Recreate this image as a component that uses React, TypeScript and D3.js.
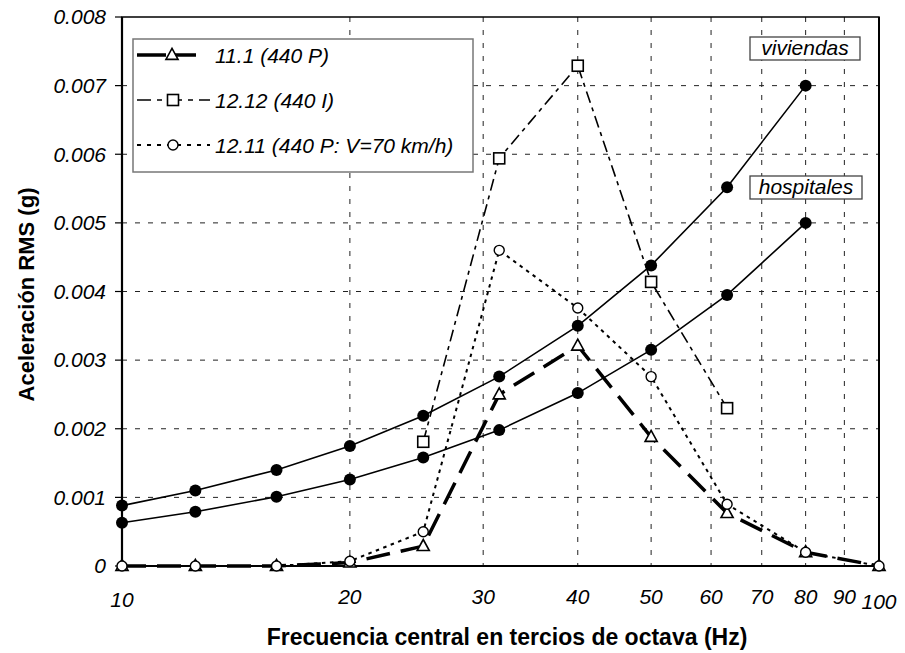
import React from "react";
import * as d3 from "d3";

const freqs = [10, 12.5, 16, 20, 25, 31.5, 40, 50, 63, 80, 100];
const critFreqs = [10, 12.5, 16, 20, 25, 31.5, 40, 50, 63, 80];
const viviendas = [0.00088, 0.0011, 0.0014, 0.00175, 0.00219, 0.00276, 0.0035, 0.00438, 0.00552, 0.007];
const hospitales = [0.00063, 0.00079, 0.00101, 0.00126, 0.00158, 0.00198, 0.00252, 0.00315, 0.00395, 0.005];
const s111 = [0, 0, 0, 0.00005, 0.00029, 0.0025, 0.00321, 0.00188, 0.00077, 0.0002, 0];
const f1212 = [25, 31.5, 40, 50, 63];
const s1212 = [0.00181, 0.00594, 0.00729, 0.00414, 0.0023];
const s1211 = [0, 0, 0, 0.00007, 0.0005, 0.0046, 0.00376, 0.00276, 0.0009, 0.0002, 0];
const xTicks = [10, 20, 30, 40, 50, 60, 70, 80, 90, 100];
const yTicks = [0, 0.001, 0.002, 0.003, 0.004, 0.005, 0.006, 0.007, 0.008];
const legendLabels = ["11.1 (440 P)", "12.12 (440 I)", "12.11 (440 P: V=70 km/h)"];

const FONT = "'Liberation Sans', Arial, Helvetica, sans-serif";
const L = 122, R = 879, T = 17, B = 566;

export default function App() {
  const x = d3.scaleLog().domain([10, 100]).range([L, R]);
  const y = d3.scaleLinear().domain([0, 0.008]).range([B, T]);
  const line = d3.line<[number, number]>().x(d => x(d[0])).y(d => y(d[1]));
  const zip = (fs: number[], vs: number[]) => fs.map((f, i) => [f, vs[i]] as [number, number]);

  const tri = (cx: number, cy: number, s = 11) =>
    `M${cx},${cy - s * 0.6}L${cx + s * 0.55},${cy + s * 0.4}L${cx - s * 0.55},${cy + s * 0.4}Z`;

  const styles = [
    { dash: "24,11", w: 3.5 },
    { dash: "12,5,4,5", w: 1.6 },
    { dash: "3.5,4.5", w: 2 },
  ];

  const markerTri = (cx: number, cy: number, k: string) => (
    <path key={k} d={tri(cx, cy)} fill="white" stroke="black" strokeWidth={1.6} />
  );
  const markerSq = (cx: number, cy: number, k: string) => (
    <rect key={k} x={cx - 5.5} y={cy - 5.5} width={11} height={11} fill="white" stroke="black" strokeWidth={1.6} />
  );
  const markerCirc = (cx: number, cy: number, k: string) => (
    <circle key={k} cx={cx} cy={cy} r={5} fill="white" stroke="black" strokeWidth={1.4} />
  );

  return (
    <svg width={905} height={653} style={{ position: "absolute", left: 0, top: 0, background: "white" }}>
      <rect x={0} y={0} width={905} height={653} fill="white" />
      {/* gridlines */}
      {yTicks.slice(1, -1).map(t => (
        <line key={"gy" + t} x1={L} x2={R} y1={y(t)} y2={y(t)} stroke="#222" strokeWidth={1} strokeDasharray="5,8" />
      ))}
      {xTicks.slice(1, -1).map(t => (
        <line key={"gx" + t} x1={x(t)} x2={x(t)} y1={T} y2={B} stroke="#222" strokeWidth={1} strokeDasharray="5,8" />
      ))}
      {/* border */}
      <rect x={L} y={T} width={R - L} height={B - T} fill="none" stroke="black" strokeWidth={1.5} />
      <line x1={L} x2={L} y1={T} y2={B} stroke="black" strokeWidth={2.2} />
      <line x1={L} x2={R} y1={B} y2={B} stroke="black" strokeWidth={2.2} />
      <line x1={R} x2={R} y1={T} y2={B} stroke="black" strokeWidth={2} />
      {/* y ticks */}
      {yTicks.map(t => (
        <g key={"yt" + t}>
          <line x1={L - 7} x2={L} y1={y(t)} y2={y(t)} stroke="black" strokeWidth={1.2} />
          <text x={106} y={y(t)} dy="0.35em" textAnchor="end" fontFamily={FONT} fontStyle="italic" fontSize={21}>
            {t === 0 ? "0" : d3.format(".3f")(t)}
          </text>
        </g>
      ))}
      {/* x tick labels */}
      {xTicks.map(t => (
        <text key={"xt" + t} x={x(t)} y={t === 100 ? 609 : t === 10 ? 607 : 604} textAnchor="middle"
          fontFamily={FONT} fontStyle="italic" fontSize={21}>{t}</text>
      ))}
      {/* axis titles */}
      <text x={507} y={645} textAnchor="middle" fontFamily={FONT} fontWeight="bold" fontSize={23}>
        Frecuencia central en tercios de octava (Hz)
      </text>
      <text transform={`translate(34,${(T + B) / 2 + 3}) rotate(-90)`} textAnchor="middle" fontFamily={FONT}
        fontWeight="bold" fontSize={22}>Aceleración RMS (g)</text>

      {/* criteria curves */}
      {[viviendas, hospitales].map((vs, si) => (
        <g key={"crit" + si}>
          <path d={line(zip(critFreqs, vs)) || ""} fill="none" stroke="black" strokeWidth={1.6} />
          {vs.map((v, i) => (
            <circle key={i} cx={x(critFreqs[i])} cy={y(v)} r={6} fill="black" />
          ))}
        </g>
      ))}

      {/* series */}
      <path d={line(zip(freqs, s111)) || ""} fill="none" stroke="black" strokeWidth={styles[0].w} strokeDasharray={styles[0].dash} />
      <path d={line(zip(f1212, s1212)) || ""} fill="none" stroke="black" strokeWidth={styles[1].w} strokeDasharray={styles[1].dash} />
      <path d={line(zip(freqs, s1211)) || ""} fill="none" stroke="black" strokeWidth={styles[2].w} strokeDasharray={styles[2].dash} />
      {freqs.map((f, i) => markerTri(x(f), y(s111[i]), "t" + i))}
      {f1212.map((f, i) => markerSq(x(f), y(s1212[i]), "s" + i))}
      {freqs.map((f, i) => markerCirc(x(f), y(s1211[i]), "c" + i))}

      {/* annotation boxes */}
      <rect x={750} y={37} width={110} height={23} fill="white" stroke="#444" strokeWidth={1.3} />
      <text x={805} y={55} textAnchor="middle" fontFamily={FONT} fontStyle="italic" fontSize={21}>viviendas</text>
      <rect x={750} y={176} width={112} height={23} fill="white" stroke="#444" strokeWidth={1.3} />
      <text x={806} y={194} textAnchor="middle" fontFamily={FONT} fontStyle="italic" fontSize={21}>hospitales</text>

      {/* legend */}
      <rect x={133} y={39} width={340} height={133} fill="white" stroke="#777" strokeWidth={1.5} />
      {legendLabels.map((lab, i) => {
        const ly = 55 + i * 45;
        return (
          <g key={"lg" + i}>
            <line x1={137} x2={210} y1={ly} y2={ly} stroke="black" strokeWidth={styles[i].w}
              strokeDasharray={i === 0 ? "29,8,22" : i === 1 ? "14,6,5,6" : "4,6"} />
            {i === 0 ? markerTri(172, ly, "lt") : i === 1 ? markerSq(173, ly, "ls") : markerCirc(173, ly, "lc")}
            <text x={215} y={ly} dy="0.36em" fontFamily={FONT} fontStyle="italic" fontSize={21}>{lab}</text>
          </g>
        );
      })}
    </svg>
  );
}
